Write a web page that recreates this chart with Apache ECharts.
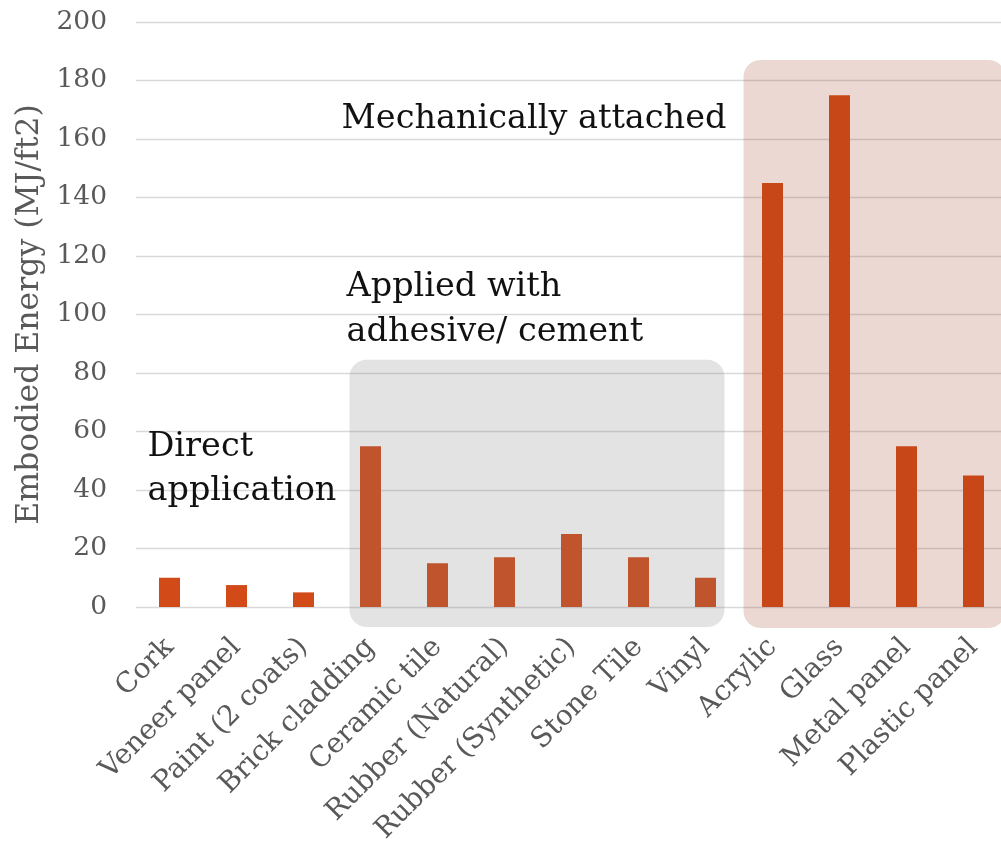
<!DOCTYPE html>
<html>
<head>
<meta charset="utf-8">
<script src="https://cdn.jsdelivr.net/npm/echarts@6/dist/echarts.min.js"></script>
<style>
  html, body { margin: 0; padding: 0; background: #fff; }
  #chart { width: 1001px; height: 843px; }
</style>
</head>
<body>
<div id="chart"></div>
<script>
// Cladding / finish materials and their embodied energy (MJ per square foot)
const categories = [
  'Cork', 'Veneer panel', 'Paint (2 coats)', 'Brick cladding', 'Ceramic tile',
  'Rubber (Natural)', 'Rubber (Synthetic)', 'Stone Tile', 'Vinyl',
  'Acrylic', 'Glass', 'Metal panel', 'Plastic panel'
];
const energyValues = [10, 7.5, 5, 55, 15, 17, 25, 17, 10, 145, 175, 55, 45];
const yTicks = { min: 0, max: 200, interval: 20 };

// Application-method groups: first / last category and label text
const groups = [
  { name: 'Direct application', first: 'Cork', last: 'Paint (2 coats)' },
  { name: 'Applied with adhesive/ cement', first: 'Brick cladding', last: 'Vinyl' },
  { name: 'Mechanically attached', first: 'Acrylic', last: 'Plastic panel' }
];

const FONT = '"DejaVu Serif", "Liberation Serif", serif';
const chart = echarts.init(document.getElementById('chart'), null, { renderer: 'canvas' });

chart.setOption({
  animation: false,
  grid: {
    left: 136, top: 22, width: 871, bottom: 236,
    containLabel: false, outerBoundsMode: 'none'
  },
  xAxis: {
    type: 'category',
    data: categories,
    axisLine: { show: false },
    axisTick: { show: false },
    axisLabel: {
      rotate: 45,
      interval: 0,
      margin: 36,
      color: '#595959',
      fontFamily: FONT,
      fontSize: 28
    }
  },
  yAxis: {
    type: 'value',
    min: yTicks.min,
    max: yTicks.max,
    interval: yTicks.interval,
    name: 'Embodied Energy (MJ/ft2)',
    nameLocation: 'middle',
    nameRotate: 90,
    nameGap: 89,
    nameTextStyle: { color: '#595959', fontFamily: FONT, fontSize: 31.5 },
    axisLine: { show: false },
    axisTick: { show: false },
    axisLabel: { color: '#595959', fontFamily: FONT, fontSize: 26.5, margin: 29 },
    splitLine: { lineStyle: { color: '#d9d9d9', width: 1.3 } }
  },
  series: [{
    type: 'bar',
    data: energyValues,
    barWidth: 21,
    itemStyle: { color: '#d24a17' }
  }]
});

// Rounded translucent panels over each group, placed from the axis scales
function px(cat, val) { return chart.convertToPixel({ gridIndex: 0 }, [cat, val]); }

const adhesiveL = px(groups[1].first, 84.5);
const adhesiveR = px(groups[1].last, 0);
const mechL = px(groups[2].first, 187);
const mechR = px(groups[2].last, 0);

const panelAdhesive = {
  type: 'rect', z: 10,
  shape: {
    x: adhesiveL[0] - 21, y: adhesiveL[1],
    width: adhesiveR[0] - adhesiveL[0] + 40, height: adhesiveR[1] - adhesiveL[1] + 20,
    r: 17
  },
  style: { fill: 'rgba(128,128,128,0.22)' }
};
const panelMech = {
  type: 'rect', z: 10,
  shape: {
    x: mechL[0] - 29, y: mechL[1],
    width: mechR[0] - mechL[0] + 61, height: mechR[1] - mechL[1] + 21,
    r: 17
  },
  style: { fill: 'rgba(160,60,30,0.2)' }
};

const direct = px(groups[0].first, 0);
const adhesiveText = px(groups[1].first, 0);
const textStyle = { fill: '#111', font: '33.5px ' + FONT };

function label(text, x, y, lineHeight) {
  return {
    type: 'text', z: 20,
    style: Object.assign({}, textStyle, { text: text, x: x, y: y, lineHeight: lineHeight, verticalAlign: 'top' })
  };
}

chart.setOption({
  graphic: [
    panelAdhesive,
    panelMech,
    label('Direct\napplication', direct[0] - 22, 425, 44),
    label('Applied with\nadhesive/ cement', adhesiveText[0] - 24, 265, 45),
    label(groups[2].name, adhesiveText[0] - 29, 99, 40)
  ]
});
</script>
</body>
</html>
